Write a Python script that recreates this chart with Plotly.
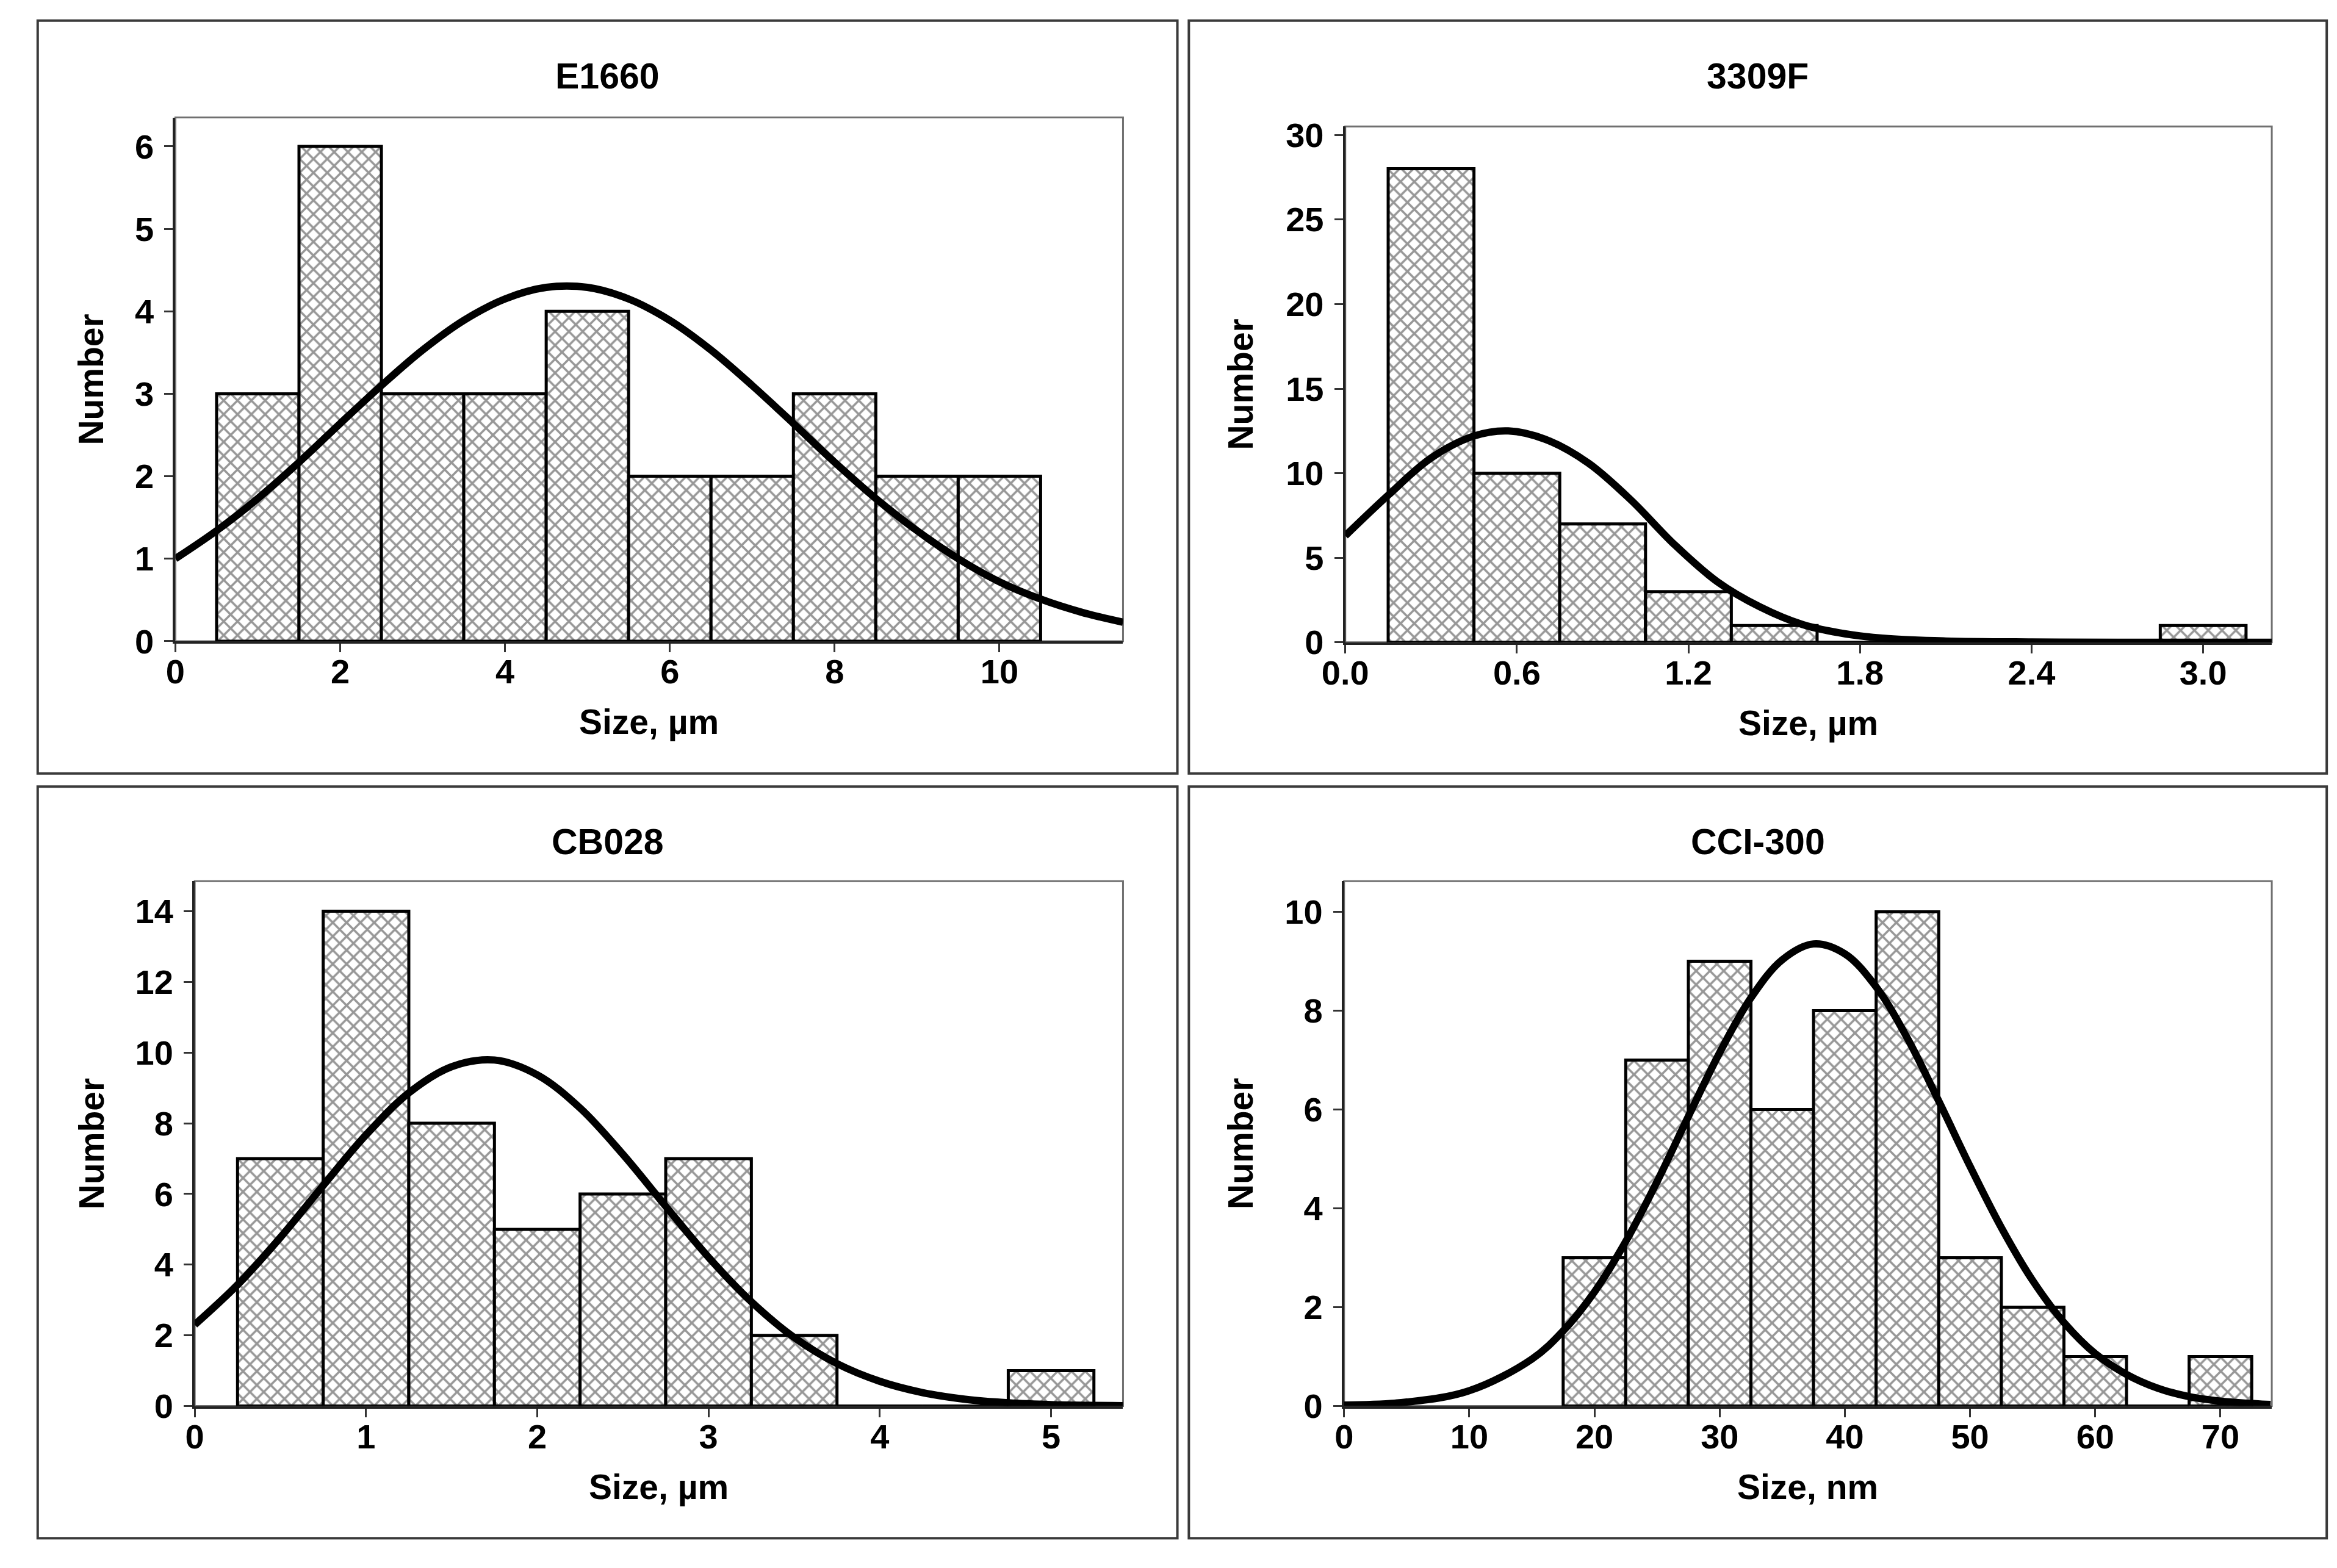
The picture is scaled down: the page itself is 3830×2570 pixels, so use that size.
import plotly.graph_objects as go

W, H = 3830, 2570

# ---------------- data ----------------
# E1660 (size, µm)
e1660_bins = [1, 2, 3, 4, 5, 6, 7, 8, 9, 10]
e1660_counts = [3, 6, 3, 3, 4, 2, 2, 3, 2, 2]
e1660_fit_x = [0, 0.5, 1, 1.5, 2, 2.5, 3, 3.5, 4, 4.5, 5, 5.5, 6, 6.5, 7, 7.5, 8, 8.5, 9, 9.5, 10, 10.5, 11, 11.5]
e1660_fit_y = [1.0, 1.34, 1.73, 2.17, 2.64, 3.10, 3.53, 3.89, 4.15, 4.29, 4.29, 4.15, 3.89, 3.53, 3.10, 2.64, 2.17, 1.73, 1.34, 1.0, 0.72, 0.51, 0.35, 0.23]

# 3309F (size, µm)
f3309_bins = [0.3, 0.6, 0.9, 1.2, 1.5, 1.8, 2.1, 2.4, 2.7, 3.0]
f3309_counts = [28, 10, 7, 3, 1, 0, 0, 0, 0, 1]
f3309_fit_x = [0, 0.15, 0.3, 0.45, 0.57, 0.7, 0.85, 1.0, 1.15, 1.3, 1.45, 1.6, 1.75, 1.9, 2.1, 2.4, 2.7, 3.24]
f3309_fit_y = [6.3, 8.7, 10.9, 12.2, 12.5, 12.0, 10.6, 8.4, 5.8, 3.6, 2.1, 1.05, 0.5, 0.22, 0.08, 0.02, 0.0, 0.0]

# CB028 (size, µm)
cb028_bins = [0.5, 1.0, 1.5, 2.0, 2.5, 3.0, 3.5, 4.0, 4.5, 5.0]
cb028_counts = [7, 14, 8, 5, 6, 7, 2, 0, 0, 1]
cb028_fit_x = [0, 0.25, 0.5, 0.75, 1.0, 1.25, 1.5, 1.75, 2.0, 2.25, 2.5, 2.75, 3.0, 3.25, 3.5, 3.75, 4.0, 4.25, 4.5, 4.75, 5.0, 5.42]
cb028_fit_y = [2.3, 3.43, 4.77, 6.24, 7.67, 8.86, 9.6, 9.79, 9.37, 8.43, 7.12, 5.65, 4.21, 2.95, 1.94, 1.2, 0.70, 0.38, 0.19, 0.09, 0.04, 0.01]

# CCI-300 (size, nm)
cci300_bins = [20, 25, 30, 35, 40, 45, 50, 55, 60, 65, 70]
cci300_counts = [3, 7, 9, 6, 8, 10, 3, 2, 1, 0, 1]
cci300_fit_x = [0, 5, 10, 15, 17.5, 20, 22.5, 25, 27.5, 30, 32.5, 35, 37.5, 40, 42.5, 45, 47.5, 50, 52.5, 55, 57.5, 60, 62.5, 65, 67.5, 70, 74]
cci300_fit_y = [0.02, 0.08, 0.31, 0.95, 1.52, 2.31, 3.33, 4.54, 5.86, 7.15, 8.26, 9.03, 9.35, 9.15, 8.48, 7.44, 6.17, 4.85, 3.61, 2.54, 1.69, 1.06, 0.64, 0.36, 0.19, 0.10, 0.03]

titles = ["E1660", "3309F", "CB028", "CCI-300"]
xtitles = ["Size, µm", "Size, µm", "Size, µm", "Size, nm"]
bin_widths = [1.0, 0.3, 0.5, 5.0]

# ---------------- layout geometry (pixels) ----------------
panels = [
    dict(bins=e1660_bins, counts=e1660_counts, fx=e1660_fit_x, fy=e1660_fit_y,
         plot=(251, 179, 1820, 1054), frame=(23, 17, 1910, 1275),
         xr=[0, 11.5], yr=[0, 6.35], xd=2, yd=1, xfmt="d", title_y=110, ytitle_x=111),
    dict(bins=f3309_bins, counts=f3309_counts, fx=f3309_fit_x, fy=f3309_fit_y,
         plot=(2188, 194, 3722, 1056), frame=(1929, 17, 3813, 1275),
         xr=[0, 3.24], yr=[0, 30.5], xd=0.6, yd=5, xfmt=".1f", title_y=110, ytitle_x=2015),
    dict(bins=cb028_bins, counts=cb028_counts, fx=cb028_fit_x, fy=cb028_fit_y,
         plot=(283, 1455, 1820, 2332), frame=(23, 1297, 1910, 2553),
         xr=[0, 5.42], yr=[0, 14.85], xd=1, yd=2, xfmt="d", title_y=1390, ytitle_x=113),
    dict(bins=cci300_bins, counts=cci300_counts, fx=cci300_fit_x, fy=cci300_fit_y,
         plot=(2186, 1455, 3722, 2332), frame=(1929, 1297, 3813, 2553),
         xr=[0, 74.1], yr=[0, 10.62], xd=10, yd=2, xfmt="d", title_y=1390, ytitle_x=2015),
]

FONT = "Liberation Sans, Arial, sans-serif"
tick_font = dict(family=FONT, size=56, color="black", weight="bold")

fig = go.Figure()
shapes = []
annotations = []

for i, p in enumerate(panels):
    n = "" if i == 0 else str(i + 1)
    xa, ya = "x" + n, "y" + n
    l, t, r, b = p["plot"]
    fig.add_trace(go.Bar(
        x=p["bins"], y=p["counts"], width=[bin_widths[i]] * len(p["bins"]),
        xaxis=xa, yaxis=ya, showlegend=False, hoverinfo="skip",
        marker=dict(color="white",
                    line=dict(color="black", width=5),
                    pattern=dict(shape="x", fgcolor="#303030", bgcolor="white",
                                 size=16, solidity=0.4)),
    ))
    fig.add_trace(go.Scatter(
        x=p["fx"], y=p["fy"], mode="lines", xaxis=xa, yaxis=ya, showlegend=False,
        hoverinfo="skip",
        line=dict(color="black", width=12, shape="spline", smoothing=1.0),
    ))
    fig.layout["xaxis" + n] = dict(
        domain=[l / W, r / W], range=p["xr"], anchor=ya, dtick=p["xd"], tick0=0,
        tickformat=p["xfmt"], showgrid=False, zeroline=False,
        showline=True, linecolor="#222", linewidth=4,
        ticks="outside", ticklen=14, tickwidth=3, tickcolor="#333",
        tickfont=tick_font, ticklabelstandoff=-16,
    )
    fig.layout["yaxis" + n] = dict(
        domain=[1 - b / H, 1 - t / H], range=p["yr"], anchor=xa, dtick=p["yd"], tick0=0,
        showgrid=False, zeroline=False,
        showline=True, linecolor="#222", linewidth=4,
        ticks="outside", ticklen=14, tickwidth=3, tickcolor="#333",
        tickfont=tick_font, ticklabelstandoff=6,
    )
    # plot-area border (gray)
    shapes.append(dict(type="rect", xref="paper", yref="paper",
                       x0=l / W, x1=r / W, y0=1 - b / H, y1=1 - t / H,
                       line=dict(color="#707070", width=3), layer="below"))
    # panel frame
    fl, ft, fr, fb = p["frame"]
    shapes.append(dict(type="rect", xref="paper", yref="paper",
                       x0=fl / W, x1=fr / W, y0=1 - fb / H, y1=1 - ft / H,
                       line=dict(color="#3a3a3a", width=4), layer="below"))
    # panel title
    annotations.append(dict(text=titles[i], xref="paper", yref="paper",
                            x=(fl + fr) / 2 / W, y=1 - p["title_y"] / H,
                            xanchor="center", yanchor="middle", showarrow=False,
                            font=dict(family=FONT, size=59, color="black", weight="bold")))
    # x axis title
    annotations.append(dict(text=xtitles[i], xref="paper", yref="paper",
                            x=(l + r) / 2 / W, y=1 - (b + 135) / H,
                            xanchor="center", yanchor="middle", showarrow=False,
                            font=dict(family=FONT, size=57, color="black", weight="bold")))
    # y axis title
    annotations.append(dict(text="Number", xref="paper", yref="paper",
                            x=p["ytitle_x"] / W, y=1 - (t + b) / 2 / H,
                            xanchor="center", yanchor="middle", showarrow=False, textangle=-90,
                            font=dict(family=FONT, size=57, color="black", weight="bold")))

fig.update_layout(
    width=W, height=H, margin=dict(l=0, r=0, t=0, b=0),
    paper_bgcolor="white", plot_bgcolor="white",
    barmode="overlay", bargap=0, hovermode=False,
    shapes=shapes, annotations=annotations,
)

fig.write_html("out.html", config={"displayModeBar": False, "staticPlot": True})

# remove the default page margin so the figure sits at the window origin
with open("out.html", "r", encoding="utf-8") as fh:
    html = fh.read()
html = html.replace("<head>", "<head><style>html,body{margin:0;padding:0;overflow:hidden;}</style>", 1)
with open("out.html", "w", encoding="utf-8") as fh:
    fh.write(html)
